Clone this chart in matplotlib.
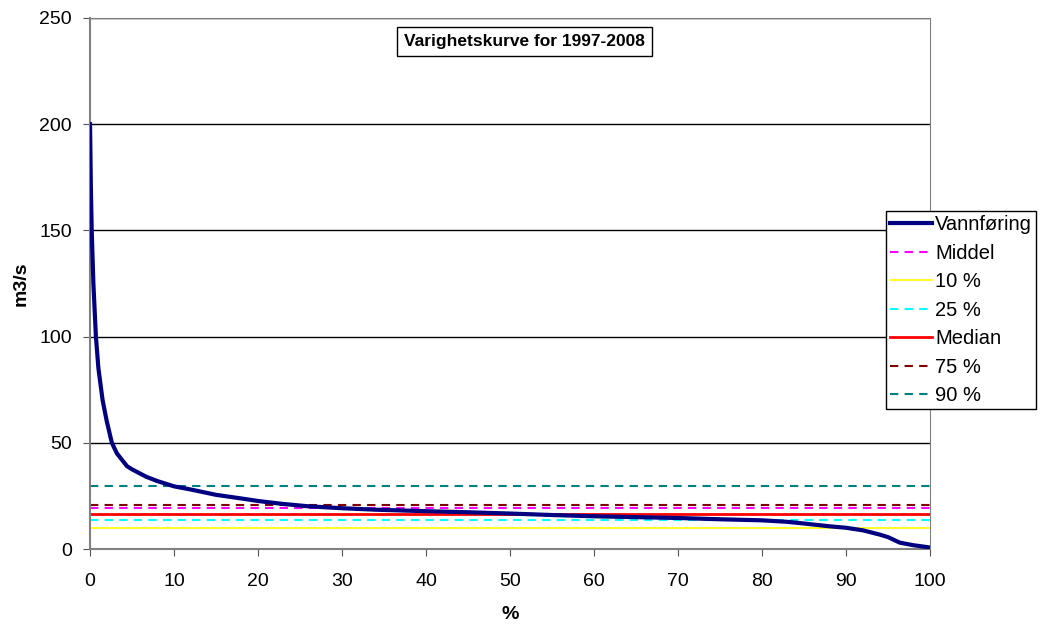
import matplotlib
matplotlib.use("Agg")
import matplotlib.pyplot as plt

plt.rcParams['font.family'] = ['Liberation Sans', 'DejaVu Sans']

# Duration curve (percent of time exceeded vs discharge m3/s)
pct = [0, 0.1, 0.2, 0.4, 0.7, 1.0, 1.5, 2.0, 2.6, 3.2, 4.4, 5, 6.7, 8, 10, 12, 15, 18, 20,
       23, 26, 30, 34, 40, 45, 50, 55, 60, 65, 70, 75, 80, 83, 85, 88, 90, 92, 94, 95,
       96.4, 98, 100]
flow = [200, 170, 150, 125, 100, 85, 70, 60, 50, 45, 39, 37.5, 34, 32, 29.5, 28, 25.5,
        23.8, 22.6, 21.2, 20.1, 19.2, 18.5, 17.8, 17.3, 16.7, 16.0, 15.4, 15.0, 14.6,
        14.0, 13.5, 12.8, 12.0, 10.7, 10.0, 8.8, 6.8, 5.6, 3.0, 1.8, 0.7]

ref_names = ['Middel', '10 %', '25 %', 'Median', '75 %', '90 %']
ref_values = [19.3, 9.7, 13.8, 16.3, 20.7, 29.7]
ref_colors = ['#ff00ff', '#ffff00', '#00ffff', '#ff0000', '#800000', '#008080']
ref_styles = ['--', '-', '--', '-', '--', '--']
ref_widths = [1.5, 1.2, 1.5, 2.0, 1.5, 1.5]

x_ticks = list(range(0, 101, 10))
y_ticks = list(range(0, 251, 50))

fig = plt.figure(figsize=(10.42, 6.27), dpi=100)
ax = fig.add_axes([0.0864, 0.1244, 0.8061, 0.8469])

for name, v, c, ls, lw in zip(ref_names, ref_values, ref_colors, ref_styles, ref_widths):
    ax.plot([0, 100], [v, v], color=c, linestyle=ls, linewidth=lw, label=name,
            dashes=(4, 3) if ls == '--' else (None, None), zorder=2)

line, = ax.plot(pct, flow, color='#000080', linewidth=3, label='Vannføring', zorder=3)

ax.set_xlim(0, 100)
ax.set_ylim(0, 250)
ax.set_xticks(x_ticks)
ax.set_yticks(y_ticks)
ax.tick_params(axis='both', labelsize=14, direction='out', length=5, color='#555555')
ax.tick_params(axis='y', pad=8)
ax.tick_params(axis='x', pad=12)
ax.yaxis.grid(True, color='black', linewidth=1)
ax.set_axisbelow(True)
for s in ax.spines.values():
    s.set_color('#808080')
ax.spines['left'].set_linewidth(1.5)
ax.spines['bottom'].set_linewidth(1.5)

ax.set_xlabel('%', fontsize=14, fontweight='bold', labelpad=12)
ax.set_ylabel('m3/s', fontsize=14, fontweight='bold', labelpad=7)

ax.text(0.517, 0.955, 'Varighetskurve for 1997-2008', transform=ax.transAxes,
        ha='center', va='center', fontsize=12.5, fontweight='bold',
        bbox=dict(boxstyle='square,pad=0.4', facecolor='white', edgecolor='black', linewidth=1))

handles, labels = ax.get_legend_handles_labels()
order = [labels.index('Vannføring')] + [labels.index(n) for n in ref_names]
leg = fig.legend([handles[i] for i in order], [labels[i] for i in order],
                 loc='upper left', bbox_to_anchor=(0.850, 0.663), fontsize=14.5,
                 frameon=True, fancybox=False, edgecolor='black', framealpha=1,
                 handlelength=2.1, handletextpad=0.15, borderpad=0.2, labelspacing=0.47,
                 borderaxespad=0)
leg.get_frame().set_linewidth(1)

fig.savefig('out.png', dpi=100)
